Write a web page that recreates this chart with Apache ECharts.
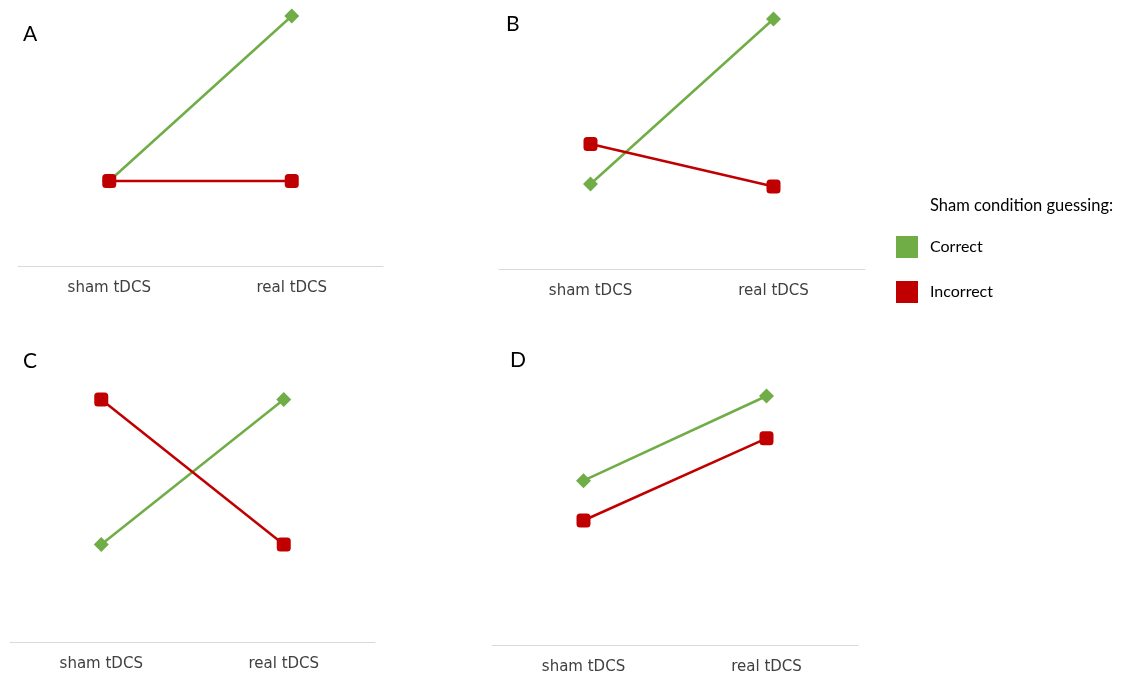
<!DOCTYPE html>
<html>
<head>
<meta charset="utf-8">
<script src="https://cdn.jsdelivr.net/npm/echarts@6/dist/echarts.min.js"></script>
<style>
  html, body { margin: 0; padding: 0; background: #fff; }
  #chart { width: 1122px; height: 675px; }
</style>
</head>
<body>
<div id="chart"></div>
<script>
const categories = ['sham tDCS', 'real tDCS']
const panelLetters = ['A', 'B', 'C', 'D']

// values on an arbitrary 0-10 scale (no y axis shown in the figure)
const correctA = [3.4, 10]
const incorrectA = [3.4, 3.4]
const correctB = [3.4, 10]
const incorrectB = [5.0, 3.3]
const correctC = [3.9, 9.7]
const incorrectC = [9.7, 3.9]
const correctD = [6.6, 10]
const incorrectD = [5.0, 8.3]

const correctSeries = [correctA, correctB, correctC, correctD]
const incorrectSeries = [incorrectA, incorrectB, incorrectC, incorrectD]

const green = '#70ad47'
const red = '#c00000'

const grids = [
  { left: 18, top: 16, width: 365, height: 250 },
  { left: 499, top: 19, width: 366, height: 250 },
  { left: 10, top: 392, width: 365, height: 250 },
  { left: 492, top: 396, width: 366, height: 250 },
]

const letterPos = [
  { left: 23, top: 24 },
  { left: 506, top: 14 },
  { left: 23, top: 351 },
  { left: 510, top: 350 },
]

const chart = echarts.init(document.getElementById('chart'))

const xAxes = grids.map((_, i) => ({
  type: 'category',
  gridIndex: i,
  data: categories,
  boundaryGap: true,
  axisTick: { show: false },
  axisLine: { lineStyle: { color: '#d9d9d9', width: 1 } },
  axisLabel: {
    color: '#404040',
    fontSize: 15,
    fontFamily: 'DejaVu Sans',
    margin: 15,
  },
}))

const yAxes = grids.map((_, i) => ({
  type: 'value',
  gridIndex: i,
  min: 0,
  max: 10,
  show: false,
  splitLine: { show: false },
}))

const series = []
grids.forEach((_, i) => {
  series.push({
    name: 'Correct',
    type: 'line',
    xAxisIndex: i,
    yAxisIndex: i,
    data: correctSeries[i],
    symbol: 'diamond',
    symbolSize: 15,
    lineStyle: { color: green, width: 2.5 },
    itemStyle: { color: green },
    z: 2,
  })
  series.push({
    name: 'Incorrect',
    type: 'line',
    xAxisIndex: i,
    yAxisIndex: i,
    data: incorrectSeries[i],
    symbol: 'roundRect',
    symbolSize: 14,
    lineStyle: { color: red, width: 2.5 },
    itemStyle: { color: red },
    z: 3,
  })
})

const titles = panelLetters.map((letter, i) => ({
  text: letter,
  left: letterPos[i].left,
  top: letterPos[i].top,
  padding: 0,
  textStyle: { fontSize: 21, fontWeight: 'normal', color: '#000', fontFamily: 'Lato' },
}))
titles.push({
  text: 'Sham condition guessing:',
  left: 930,
  top: 197,
  padding: 0,
  textStyle: { fontSize: 16.5, fontWeight: 'normal', color: '#000', fontFamily: 'Lato' },
})

chart.setOption({
  animation: false,
  title: titles,
  grid: grids,
  xAxis: xAxes,
  yAxis: yAxes,
  legend: {
    data: ['Correct', 'Incorrect'],
    orient: 'vertical',
    left: 896,
    top: 236,
    padding: 0,
    icon: 'rect',
    itemWidth: 22,
    itemHeight: 22,
    itemGap: 23,
    selectedMode: false,
    textStyle: { fontSize: 16, color: '#000', fontFamily: 'Lato', padding: [0, 0, 0, 7] },
  },
  series: series,
})
</script>
</body>
</html>
